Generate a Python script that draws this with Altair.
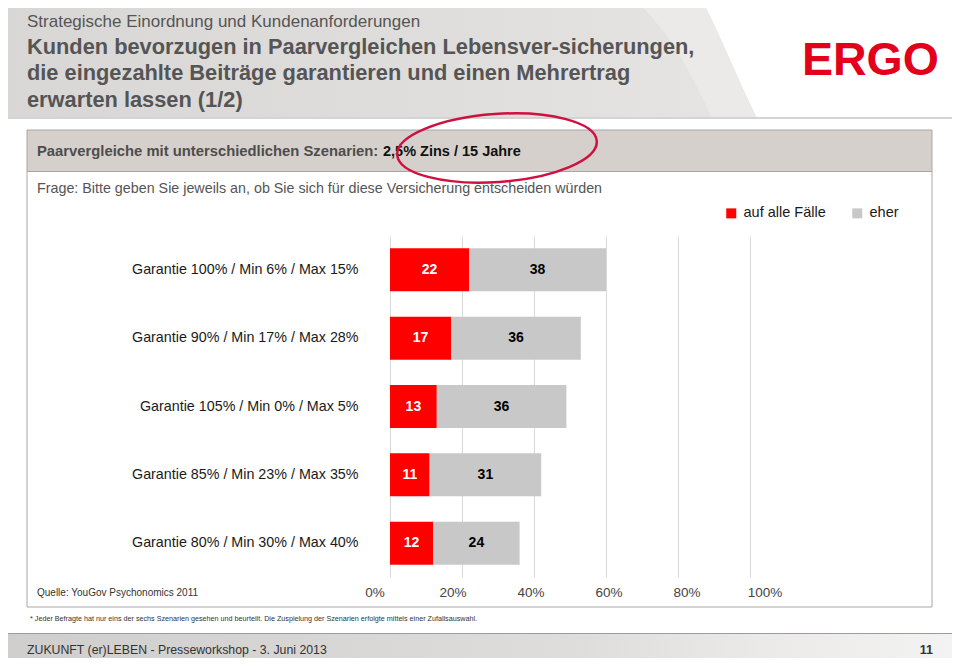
import altair as alt
import pandas as pd

# ---- data ----
categories = [
    "Garantie 100% / Min 6% / Max 15%",
    "Garantie 90% / Min 17% / Max 28%",
    "Garantie 105% / Min 0% / Max 5%",
    "Garantie 85% / Min 23% / Max 35%",
    "Garantie 80% / Min 30% / Max 40%",
]
series = ["auf alle Fälle", "eher"]
auf_alle_faelle = [22, 17, 13, 11, 12]
eher = [38, 36, 36, 31, 24]
tick_values = [0, 20, 40, 60, 80, 100]

rows = []
for c, a, e in zip(categories, auf_alle_faelle, eher):
    rows.append({"cat": c, "series": series[0], "value": a, "ord": 0})
    rows.append({"cat": c, "series": series[1], "value": e, "ord": 1})
df = pd.DataFrame(rows)
one = pd.DataFrame({"k": [0]})

SANS = "Liberation Sans, Arial, sans-serif"

OX, OY = 390, 236  # page position of plot origin


def txt(s, X, Y, size, color="#333333", bold=False, font=SANS, align="left"):
    return alt.Chart(one).mark_text(
        text=s, align=align, baseline="middle", fontSize=size, font=font,
        fontWeight="bold" if bold else "normal", color=color,
    ).encode(x=alt.value(X - OX), y=alt.value(Y - OY))


def rect(X1, Y1, X2, Y2, fill=None, stroke=None, sw=1):
    kw = {}
    if fill is not None:
        kw["fill"] = fill
    else:
        kw["fillOpacity"] = 0
    if stroke is not None:
        kw["stroke"] = stroke
        kw["strokeWidth"] = sw
    return alt.Chart(one).mark_rect(**kw).encode(
        x=alt.value(X1 - OX), x2=alt.value(X2 - OX),
        y=alt.value(Y1 - OY), y2=alt.value(Y2 - OY))


def shape(path, fill=None, stroke=None, sw=1, angle=0, X=0, Y=0):
    kw = dict(shape=path, size=4, opacity=1)
    if fill is not None:
        kw["filled"] = True
        kw["fill"] = fill
        kw["strokeWidth"] = 0
    else:
        kw["filled"] = False
        kw["stroke"] = stroke
        kw["strokeWidth"] = sw
    if angle:
        kw["angle"] = angle
    return alt.Chart(one).mark_point(**kw).encode(
        x=alt.value(X - OX), y=alt.value(Y - OY))


def grad(stops):
    return alt.LinearGradient(
        gradient="linear", x1=0, x2=1, y1=0, y2=0,
        stops=[alt.GradientStop(offset=o, color=c) for o, c in stops])


layers = []
# header
layers.append(shape("M0 0 L702 0 C725 45 740 85 757 118 L0 118 Z",
                    fill=grad([(0, "#d9d7d5"), (0.6, "#e0dedc"), (1, "#e6e5e3")])))
layers.append(shape("M635 0 L702 0 C725 45 740 85 757 118 L712 118 C690 70 668 30 635 0 Z",
                    fill="#ebeae9"))
layers.append(rect(0, 117, 960, 119, fill="#d4d4d4"))
# footer
layers.append(rect(0, 633, 960, 666,
                   fill=grad([(0, "#cfcecc"), (0.6, "#dedddb"), (0.8, "#ebeae8"), (1, "#f3f3f3")])))
layers.append(rect(0, 633, 960, 634, fill="#9c9c9c"))
# box
layers.append(rect(27, 130, 932, 172, fill="#d5d0cb"))
layers.append(rect(27, 171, 932, 172, fill="#aaa5a0"))
layers.append(rect(27, 130, 932, 607, stroke="#a8a8a8", sw=1))

# texts
layers.append(txt("Strategische Einordnung und Kundenanforderungen", 27, 22, 17, "#555555"))
layers.append(txt("Kunden bevorzugen in Paarvergleichen Lebensver-sicherungen,", 27, 47, 21.8, "#555555", True))
layers.append(txt("die eingezahlte Beiträge garantieren und einen Mehrertrag", 27, 73, 21.8, "#555555", True))
layers.append(txt("erwarten lassen (1/2)", 27, 100, 21.8, "#555555", True))
layers.append(txt("ERGO", 802, 61, 46.5, "#e3001b", True))
layers.append(txt("Paarvergleiche mit unterschiedlichen Szenarien: ", 37, 152, 14.8, "#4d4d4d", True))
layers.append(txt("2,5% Zins / 15 Jahre", 383, 152, 14.5, "#111111", True))
layers.append(txt("Frage: Bitte geben Sie jeweils an, ob Sie sich für diese Versicherung entscheiden würden",
                  37, 189, 14.3, "#555555"))
layers.append(txt("Quelle: YouGov Psychonomics 2011", 37, 593, 10, "#333333"))
layers.append(txt("* Jeder Befragte hat nur eins der sechs Szenarien gesehen und beurteilt. "
                  "Die Zuspielung der Szenarien erfolgte mittels einer Zufallsauswahl.",
                  30, 619, 7.2, "#333333"))
layers.append(txt("ZUKUNFT (er)LEBEN - Presseworkshop - 3. Juni 2013", 27, 650, 12.3, "#333333"))
layers.append(txt("11", 933, 650, 12.5, "#333333", True, align="right"))
# red ellipse annotation
layers.append(shape("M-100 0 A100 34 0 1 0 100 0 A100 34 0 1 0 -100 0 Z",
                    stroke="#cf1040", sw=2.5, angle=356, X=497, Y=148))

# chart
base = alt.Chart(df).transform_stack(
    stack="value", groupby=["cat"], as_=["v0", "v1"],
    sort=[alt.SortField("ord", order="ascending")],
).transform_calculate(mid="(datum.v0 + datum.v1) / 2")

yenc = alt.Y("cat:N", sort=categories, title=None,
             scale=alt.Scale(paddingInner=0.37, paddingOuter=0.18),
             axis=alt.Axis(title=None, domain=False, ticks=False, labelPadding=32,
                           labelFontSize=14.3, labelFont=SANS, labelColor="#1a1a1a",
                           labelLimit=400, grid=False))

xaxis = alt.Axis(values=tick_values, labelExpr="datum.value + '%'", title=None,
                 domain=False, ticks=False, grid=True, gridColor="#d9d9d9",
                 labelPadding=8, labelFontSize=13.5, labelFont=SANS,
                 labelColor="#444444", labelFlush=False, labelBound=False,
                 labelOffset={"expr": "datum.value * 0.3 - 15.5"})

bars = base.mark_bar().encode(
    x=alt.X("v0:Q", scale=alt.Scale(domain=[0, 100]), axis=xaxis, title=None),
    x2="v1:Q",
    y=yenc,
    color=alt.Color("series:N",
                    scale=alt.Scale(domain=series, range=["#ff0000", "#c8c8c8"]),
                    legend=alt.Legend(orient="none", legendX=334, legendY=-30,
                                      direction="horizontal", title=None,
                                      symbolType="square", symbolSize=100,
                                      symbolStrokeWidth=0, labelFontSize=14.5,
                                      labelFont=SANS, labelColor="#1a1a1a",
                                      columnPadding=24, labelOffset=5, padding=0)),
)

labels = base.mark_text(fontSize=14, fontWeight="bold", font=SANS, baseline="middle").encode(
    x=alt.X("mid:Q", title=None),
    y=alt.Y("cat:N", sort=categories, title=None),
    text="value:Q",
    color=alt.condition(alt.datum.series == series[0], alt.value("white"), alt.value("black")),
)

layers.append(bars)
layers.append(labels)

chart = alt.layer(*layers).properties(
    width=360, height=341,
    background="white",
    autosize=alt.AutoSizeParams(type="none"),
    padding={"left": 382, "top": 228, "right": 202, "bottom": 81},
).configure_view(strokeWidth=0)

chart.save("out.html", embed_options={"renderer": "svg", "actions": False})
